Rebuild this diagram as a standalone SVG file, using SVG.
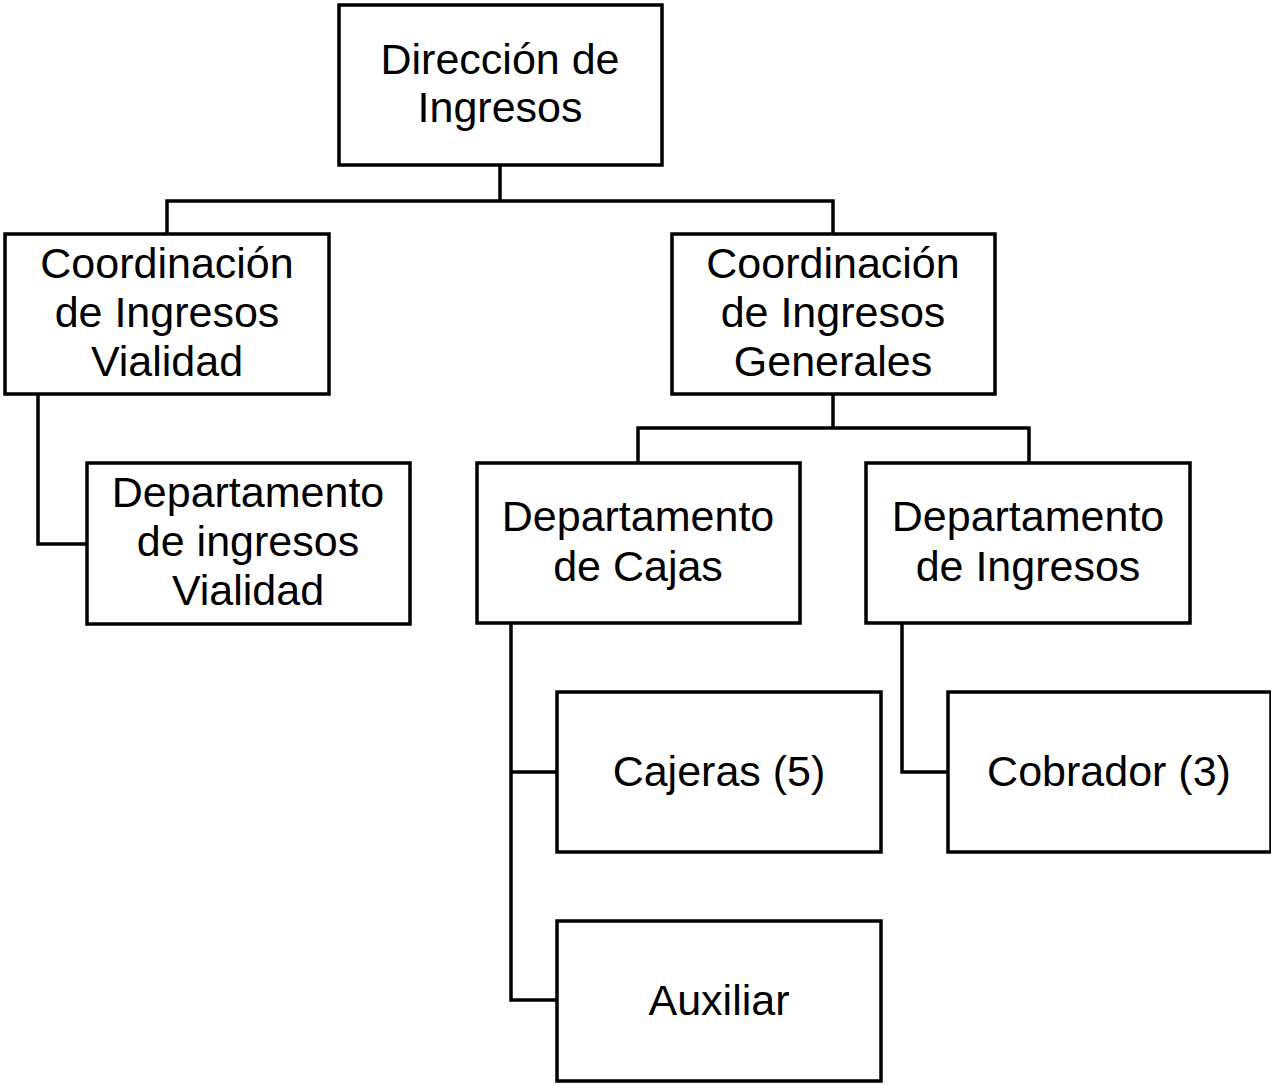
<svg xmlns="http://www.w3.org/2000/svg" width="1271" height="1086" viewBox="0 0 1271 1086">
<style>
.box{fill:#fff;stroke:#000;stroke-width:3.5}
.lbl{font-family:"Liberation Sans",Arial,sans-serif;font-size:43px;fill:#000;text-anchor:middle}
.con{fill:none;stroke:#000;stroke-width:3.5}
</style>
<rect width="1271" height="1086" fill="#fff"/>
<g id="connectors">
<path class="con" d="M500 165V201M167 234V201H833V234"/>
<path class="con" d="M38 394V544H87"/>
<path class="con" d="M833 394V428M638 463V428H1029V463"/>
<path class="con" d="M511 623V1000H557M511 772H557"/>
<path class="con" d="M902 623V772H948"/>
</g>
<g id="n-direccion"><rect class="box" x="339" y="5" width="323" height="160"/>
<text class="lbl" x="500"><tspan x="500" y="74">Dirección de</tspan><tspan x="500" y="122">Ingresos</tspan></text></g>
<g id="n-coord-vialidad"><rect class="box" x="5" y="234" width="324" height="160"/>
<text class="lbl"><tspan x="167" y="278">Coordinación</tspan><tspan x="167" y="327">de Ingresos</tspan><tspan x="167" y="376">Vialidad</tspan></text></g>
<g id="n-coord-generales"><rect class="box" x="672" y="234" width="323" height="160"/>
<text class="lbl"><tspan x="833" y="278">Coordinación</tspan><tspan x="833" y="327">de Ingresos</tspan><tspan x="833" y="376">Generales</tspan></text></g>
<g id="n-dep-vialidad"><rect class="box" x="87" y="463" width="323" height="161"/>
<text class="lbl"><tspan x="248" y="507">Departamento</tspan><tspan x="248" y="556">de ingresos</tspan><tspan x="248" y="605">Vialidad</tspan></text></g>
<g id="n-dep-cajas"><rect class="box" x="477" y="463" width="323" height="160"/>
<text class="lbl"><tspan x="638" y="531">Departamento</tspan><tspan x="638" y="581">de Cajas</tspan></text></g>
<g id="n-dep-ingresos"><rect class="box" x="866" y="463" width="324" height="160"/>
<text class="lbl"><tspan x="1028" y="531">Departamento</tspan><tspan x="1028" y="581">de Ingresos</tspan></text></g>
<g id="n-cajeras"><rect class="box" x="557" y="692" width="324" height="160"/>
<text class="lbl" x="719" y="786">Cajeras (5)</text></g>
<g id="n-auxiliar"><rect class="box" x="557" y="921" width="324" height="160"/>
<text class="lbl" x="719" y="1015">Auxiliar</text></g>
<g id="n-cobrador"><rect class="box" x="948" y="692" width="323" height="160"/>
<text class="lbl" x="1109" y="786">Cobrador (3)</text></g>
</svg>
